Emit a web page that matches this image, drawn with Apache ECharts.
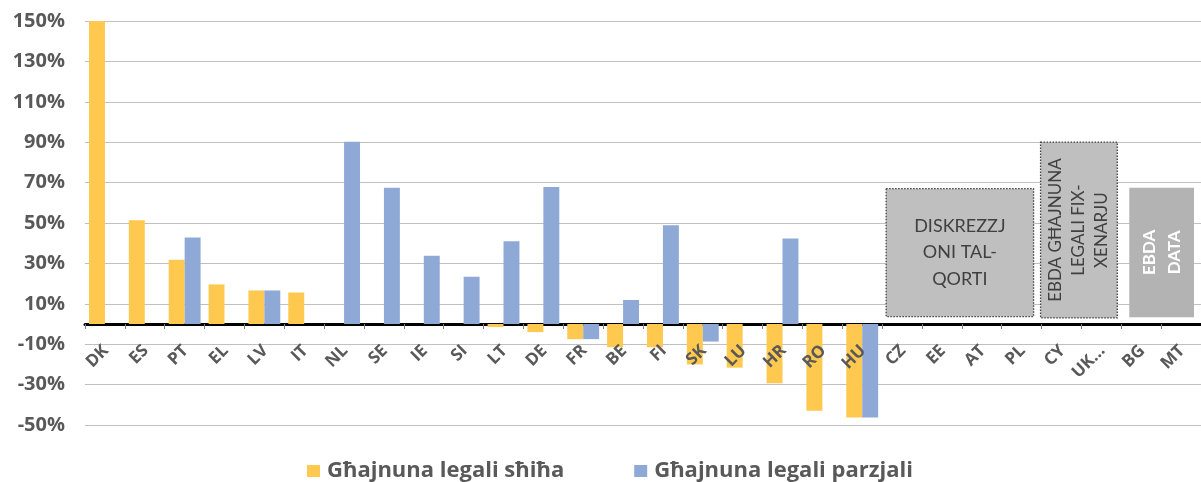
<!DOCTYPE html>
<html>
<head>
<meta charset="utf-8">
<script src="https://cdn.jsdelivr.net/npm/echarts@6/dist/echarts.min.js"></script>
<style>
  html, body { margin: 0; padding: 0; background: #fff; }
  #chart { width: 1201px; height: 482px; }
</style>
</head>
<body>
<div id="chart"></div>
<script>
// pajjiżi
const countries = ['DK', 'ES', 'PT', 'EL', 'LV', 'IT', 'NL', 'SE', 'IE', 'SI', 'LT', 'DE', 'FR', 'BE', 'FI', 'SK', 'LU', 'HR', 'RO', 'HU', 'CZ', 'EE', 'AT', 'PL', 'CY', 'UK…', 'BG', 'MT'];
const seriesNames = ['Għajnuna legali sħiħa', 'Għajnuna legali parzjali'];
// valuri f'%
const fullAid = [150, 51.4, 31.8, 19.6, 16.6, 15.6, null, null, null, null, -1.5, -4, -7.5, -11.5, -11.5, -20, -21.6, -29.3, -43, -46.3, null, null, null, null, null, null, null, null];
const partialAid = [null, null, 42.8, null, 16.6, null, 90.2, 67.5, 33.8, 23.4, 41, 67.8, -7.5, 11.9, 48.9, -8.7, null, 42.3, null, -46.3, null, null, null, null, null, null, null, null];
const yTicks = { min: -50, max: 150, interval: 20 };
// kaxxi ta' noti: [minn, sa, baxx, għoli]
const noteRanges = [[20, 23, 3.7, 67], [24, 25, 3, 90], [26, 27, 3.4, 67.5]];
const noteTexts = ['DISKREZZJ\nONI TAL-\nQORTI', 'EBDA GĦAJNUNA\nLEGALI FIX-\nXENARJU', 'EBDA\nDATA'];

const noteStyles = [
  { padL: 4, padR: 8, fill: '#bfbfbf', dashed: true, rotate: false, color: '#404040', weight: 'normal', size: 18, lh: 26.5 },
  { padL: -1, padR: 4, fill: '#bfbfbf', dashed: true, rotate: true, color: '#404040', weight: 'normal', size: 17, lh: 23 },
  { padL: 8, padR: 7, fill: '#b3b3b3', dashed: false, rotate: true, color: '#ffffff', weight: 'bold', size: 17, lh: 25 }
];

const chart = echarts.init(document.getElementById('chart'));

const labelFont = '"Open Sans", "DejaVu Sans", sans-serif';

chart.setOption({
  animation: false,
  textStyle: { fontFamily: labelFont },
  grid: { left: 85, right: 0, top: 21, bottom: 57, containLabel: false },
  legend: {
    data: seriesNames,
    top: 455,
    left: 302,
    icon: 'rect',
    itemWidth: 13,
    itemHeight: 12,
    itemGap: 70,
    textStyle: { fontSize: 22, fontWeight: 'bold', color: '#595959', fontFamily: labelFont, padding: [0, 0, 0, 2] }
  },
  xAxis: {
    type: 'category',
    data: countries,
    axisLine: { onZero: false, lineStyle: { color: '#000', width: 3 } },
    axisTick: { show: true, length: 5, lineStyle: { color: '#808080', width: 1 } },
    axisLabel: { show: false },
    splitLine: { show: false }
  },
  yAxis: {
    type: 'value',
    min: yTicks.min,
    max: yTicks.max,
    interval: yTicks.interval,
    axisLine: { show: false },
    axisTick: { show: false },
    axisLabel: {
      formatter: '{value}%',
      fontSize: 20,
      fontWeight: 'bold',
      color: '#595959',
      margin: 20
    },
    splitLine: { lineStyle: { color: '#c0c0c0', width: 1 } }
  },
  series: [
    {
      name: seriesNames[0],
      type: 'bar',
      data: fullAid,
      barCategoryGap: '20%',
      barGap: 0,
      itemStyle: { color: '#FFC84F' }
    },
    {
      name: seriesNames[1],
      type: 'bar',
      data: partialAid,
      barCategoryGap: '20%',
      barGap: 0,
      itemStyle: { color: '#8FA9D6' }
    },
    {
      // kaxxi ta' noti
      type: 'custom',
      silent: true,
      z: 5,
      encode: { x: [0, 1], y: [2, 3] },
      data: noteRanges,
      renderItem: function (params, api) {
        const i = params.dataIndex;
        const st = noteStyles[i];
        const band = api.size([1, 0])[0];
        const p0 = api.coord([api.value(0), api.value(3)]);
        const p1 = api.coord([api.value(1), api.value(2)]);
        const x0 = p0[0] - band / 2 + st.padL;
        const x1 = p1[0] + band / 2 - st.padR;
        const y0 = p0[1];
        const y1 = p1[1];
        return {
          type: 'group',
          children: [
            {
              type: 'rect',
              shape: { x: x0, y: y0, width: x1 - x0, height: y1 - y0 },
              style: st.dashed
                ? { fill: st.fill, stroke: '#404040', lineWidth: 1.3, lineDash: [1.5, 1.5] }
                : { fill: st.fill }
            },
            {
              type: 'text',
              x: (x0 + x1) / 2,
              y: (y0 + y1) / 2,
              rotation: st.rotate ? Math.PI / 2 : 0,
              style: {
                text: noteTexts[i],
                fill: st.color,
                fontSize: st.size,
                fontWeight: st.weight,
                fontFamily: 'Lato, "Open Sans", sans-serif',
                lineHeight: st.lh,
                align: 'center',
                verticalAlign: 'middle'
              }
            }
          ]
        };
      }
    },
    {
      // tikketti tal-pajjiżi mdawrin 45°, fuq il-linja taż-żero
      type: 'custom',
      silent: true,
      z: 6,
      encode: { x: 0, y: 1 },
      data: countries.map(function (c, i) { return [i, 0]; }),
      renderItem: function (params, api) {
        const p = api.coord([api.value(0), api.value(1)]);
        return {
          type: 'text',
          x: p[0] + 1,
          y: p[1] + 24,
          rotation: Math.PI / 4,
          style: {
            text: countries[params.dataIndex],
            fill: '#595959',
            fontSize: 17,
            fontWeight: 'bold',
            fontFamily: labelFont,
            align: 'right',
            verticalAlign: 'middle'
          }
        };
      }
    }
  ]
});

// v6 ma jressaqx l-assi ma' onZero, allura nċaqalquh sal-0
const zeroY = chart.convertToPixel({ yAxisIndex: 0 }, 0);
const bottomY = chart.convertToPixel({ yAxisIndex: 0 }, yTicks.min);
chart.setOption({ xAxis: { offset: zeroY - bottomY } });
</script>
</body>
</html>
